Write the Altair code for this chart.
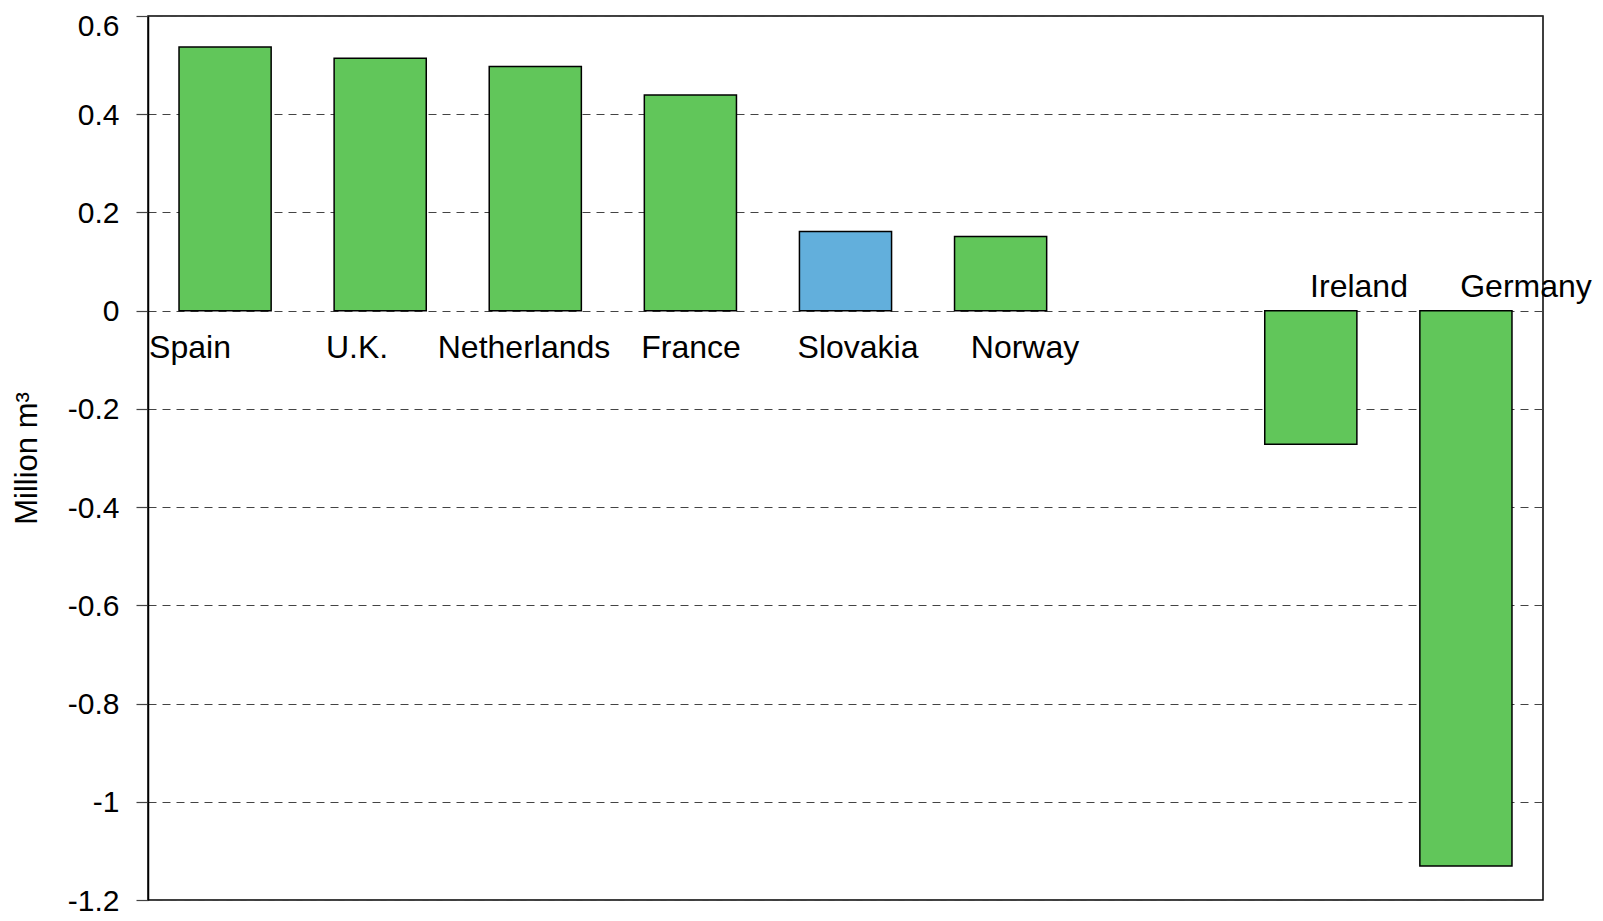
import altair as alt
import pandas as pd

# slots along the x axis (one empty slot between Norway and Ireland)
slots = ["Spain", "U.K.", "Netherlands", "France", "Slovakia", "Norway", " ", "Ireland", "Germany"]
countries = ["Spain", "U.K.", "Netherlands", "France", "Slovakia", "Norway", "Ireland", "Germany"]
values = [0.537, 0.514, 0.497, 0.439, 0.161, 0.151, -0.272, -1.131]
highlight = "Slovakia"
y_ticks = [-1.2, -1.0, -0.8, -0.6, -0.4, -0.2, 0, 0.2, 0.4, 0.6]

df = pd.DataFrame({
    "country": countries,
    "value": values,
    "idx": [slots.index(c) for c in countries],
})

FONT = "Liberation Sans"

y_enc = alt.Y(
    "value:Q",
    scale=alt.Scale(domain=[-1.2, 0.6], nice=False, zero=False),
    axis=alt.Axis(
        values=y_ticks,
        labelExpr="toString(datum.value)",
        title="Million m³",
        titleFont=FONT,
        titleFontSize=31,
        titleFontWeight="normal",
        titleColor="black",
        titleX=-112,
        titleBaseline="alphabetic",
        labelFont=FONT,
        labelFontSize=30,
        labelColor="black",
        labelPadding=17,
        labelOffset=alt.condition("datum.value >= 0.59", alt.value(10), alt.value(1)),
        tickSize=12,
        tickColor="#444",
        tickWidth=1.2,
        domainColor="black",
        domainWidth=1.5,
        grid=True,
        gridColor="#444",
        gridWidth=1,
        gridDash=[8, 6],
    ),
)

bars = alt.Chart(df).mark_bar(stroke="black", strokeWidth=1.5).encode(
    x=alt.X(
        "country:N",
        sort=None,
        scale=alt.Scale(domain=slots, paddingInner=0.406, paddingOuter=0.2),
        axis=None,
    ),
    y=y_enc,
    y2=alt.datum(0),
    color=alt.condition(
        alt.datum.country == highlight, alt.value("#62afdc"), alt.value("#61c65a")
    ),
)

label_x = alt.X(
    "idx:Q",
    scale=alt.Scale(domain=[0, len(slots) - 1], range=[42, 1378], nice=False, zero=False),
    axis=None,
)

labels_pos = alt.Chart(df).transform_filter(alt.datum.value > 0).mark_text(
    font=FONT, fontSize=32, color="black", align="center", baseline="alphabetic", dy=47
).encode(x=label_x, y=alt.datum(0), text="country:N")

labels_neg = alt.Chart(df).transform_filter(alt.datum.value < 0).mark_text(
    font=FONT, fontSize=32, color="black", align="center", baseline="alphabetic", dy=-14
).encode(x=label_x, y=alt.datum(0), text="country:N")

chart = (
    alt.layer(bars, labels_pos, labels_neg)
    .resolve_scale(x="independent")
    .properties(
        width=1395,
        height=884,
        autosize=alt.AutoSizeParams(type="none"),
        padding={"left": 140, "top": 8, "right": 52, "bottom": 18},
        background="white",
    )
    .configure_view(stroke="black", strokeWidth=1.5)
)

chart.save("out.html", embed_options={"renderer": "svg", "actions": False})
